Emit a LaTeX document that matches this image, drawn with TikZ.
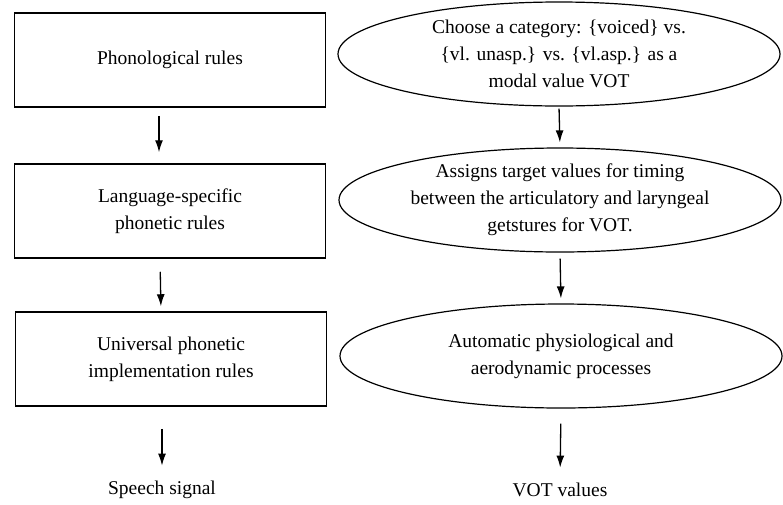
\documentclass[tikz,border=0pt]{standalone}
\usepackage{fontspec}
\setmainfont{Liberation Serif}
\usetikzlibrary{arrows.meta}
\usetikzlibrary{shapes.geometric}

\begin{document}
\begin{tikzpicture}[x=1pt, y=-1pt,
        box_style/.style={rectangle,draw=black,line width=1.5pt,minimum width=311pt,minimum height=94pt,inner sep=0pt,align=center,font=\fontsize{19.5}{27}\selectfont},
        oval_style/.style={ellipse,draw=black,line width=1.2pt,minimum width=442pt,minimum height=104pt,inner sep=0pt,align=center,font=\fontsize{19.5}{27}\selectfont},
        text_style/.style={font=\fontsize{19.5}{27}\selectfont},
        edge_style/.style={draw=black, line width=1.3pt,-{Latex[length=12pt,width=8pt]}}]

        \useasboundingbox (0,0) rectangle (783,504);

        \node [box_style](b1) at (170,60) {Phonological rules};

        \node [box_style](b2) at (170,211) {Language-specific\\phonetic rules};

        \node [box_style](b3) at (171,359) {Universal phonetic\\implementation rules};

        \node [text_style](out1) at (162,490) {Speech signal};

        \node [oval_style](e1) at (559,54) {Choose a category: \{voiced\} vs.\\\{vl. unasp.\} vs. \{vl.asp.\} as a\\modal value VOT};

        \node [oval_style](e2) at (560,200) {Assigns target values for timing\\between the articulatory and laryngeal\\getstures for VOT.};

        \node [oval_style](e3) at (561,356) {Automatic physiological and\\aerodynamic processes};

        \node [text_style](out2) at (560,490) {VOT values};

        \draw [edge_style,shorten <=8pt,shorten >=11pt] ([xshift=-11pt]b1.south) -- ([xshift=-11pt]b2.north);

        \draw [edge_style,shorten <=13pt,shorten >=5pt] ([xshift=-10pt]b2.south) -- ([xshift=-10pt]b3.north);

        \draw [edge_style,shorten <=22pt,shorten >=12pt] ([xshift=-9pt]b3.south) -- ([xshift=0pt]out1.north);

        \draw [edge_style,shorten <=2pt,shorten >=5pt] (e1.south) -- (e2.north);

        \draw [edge_style,shorten <=6pt,shorten >=5pt] (e2.south) -- (e3.north);

        \draw [edge_style,shorten <=15pt,shorten >=12pt] (e3.south) -- (out2.north);

        \end{tikzpicture}
\end{document}
